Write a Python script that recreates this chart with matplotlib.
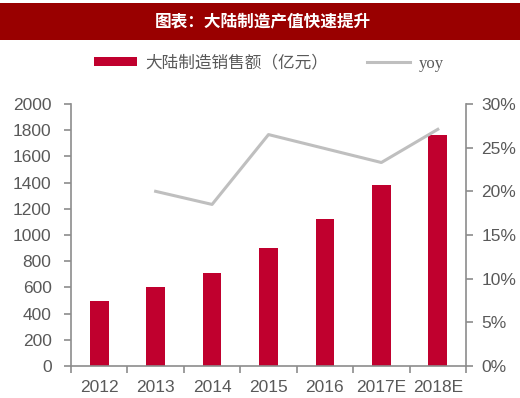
import matplotlib
matplotlib.use("Agg")
import matplotlib.pyplot as plt
from matplotlib.patches import Rectangle
from matplotlib.ticker import FuncFormatter
import numpy as np

years = ["2012", "2013", "2014", "2015", "2016", "2017E", "2018E"]
sales = [500, 600, 710, 900, 1120, 1385, 1760]
yoy_years = ["2013", "2014", "2015", "2016", "2017E", "2018E"]
yoy = [20.0, 18.5, 26.5, 24.9, 23.3, 27.1]

title = "图表：大陆制造产值快速提升"
bar_label = "大陆制造销售额（亿元）"
line_label = "yoy"

plt.rcParams['font.family'] = ['Liberation Sans', 'Noto Sans CJK SC', 'DejaVu Sans']

bar_color = "#C0002E"
line_color = "#BFBFBF"
axis_color = "#8C8C8C"
text_color = "#595959"
tick_fs = 12.5

fig = plt.figure(figsize=(5.2, 3.98), dpi=100)
fig.patch.set_facecolor("white")

# title bar
fig.patches.append(Rectangle((0, 1 - 40/398), 1, 37/398, transform=fig.transFigure,
                             facecolor="#990000", edgecolor="none", zorder=0))
fig.text(0.506, 1 - 21.5/398, title, color="white", fontsize=12, fontweight="bold",
         ha="center", va="center", family=['Noto Sans CJK SC', 'DejaVu Sans'])

ax = fig.add_axes([71/520, 1 - 366/398, (466 - 71)/520, (366 - 104)/398])
x = np.arange(len(years))
ax.bar(x, sales, width=0.33, color=bar_color, zorder=2, label=bar_label)
ax.set_xlim(-0.5, len(years) - 0.5)
ax.set_ylim(0, 2000)
ax.set_yticks(np.arange(0, 2001, 200))
ax.set_xticks(x)
ax.set_xticklabels(years)
ax.set_xticks(np.arange(-0.5, len(years), 1), minor=True)
ax.tick_params(axis='x', which='major', length=0, pad=10)
ax.tick_params(axis='x', which='minor', length=5, color=axis_color, width=1.2)
ax.tick_params(axis='y', length=5, color=axis_color, width=1.2, pad=9)
for lbl in ax.get_xticklabels() + ax.get_yticklabels():
    lbl.set_color(text_color)
    lbl.set_fontsize(tick_fs)
for s in ["top", "right"]:
    ax.spines[s].set_visible(False)
for s in ["left", "bottom"]:
    ax.spines[s].set_color(axis_color)
    ax.spines[s].set_linewidth(1.2)

ax2 = ax.twinx()
xi = [years.index(y) for y in yoy_years]
ax2.plot(xi, yoy, color=line_color, linewidth=2.2, zorder=3, label=line_label)
ax2.set_ylim(0, 30)
ax2.set_yticks(np.arange(0, 31, 5))
ax2.yaxis.set_major_formatter(FuncFormatter(lambda v, p: f"{int(v)}%"))
ax2.tick_params(axis='y', length=5, color=axis_color, width=1.2, pad=6)
for lbl in ax2.get_yticklabels():
    lbl.set_color(text_color)
    lbl.set_fontsize(tick_fs)
for s in ["top", "left", "bottom"]:
    ax2.spines[s].set_visible(False)
ax2.spines["right"].set_color(axis_color)
ax2.spines["right"].set_linewidth(1.2)

# legend
h1, l1 = ax.get_legend_handles_labels()
h2, l2 = ax2.get_legend_handles_labels()
leg = fig.legend(h1 + h2, l1 + l2, loc="center", bbox_to_anchor=(0.517, 1 - 63/398),
                 ncol=2, frameon=False, handlelength=2.6,
                 handleheight=0.5, columnspacing=2.3, handletextpad=0.5,
                 prop={'family': ['Noto Sans CJK SC', 'DejaVu Sans'], 'size': 12})
for t in leg.get_texts():
    t.set_color(text_color)
leg.get_texts()[1].set_family(['Liberation Serif'])

fig.savefig("out.png", dpi=100)
